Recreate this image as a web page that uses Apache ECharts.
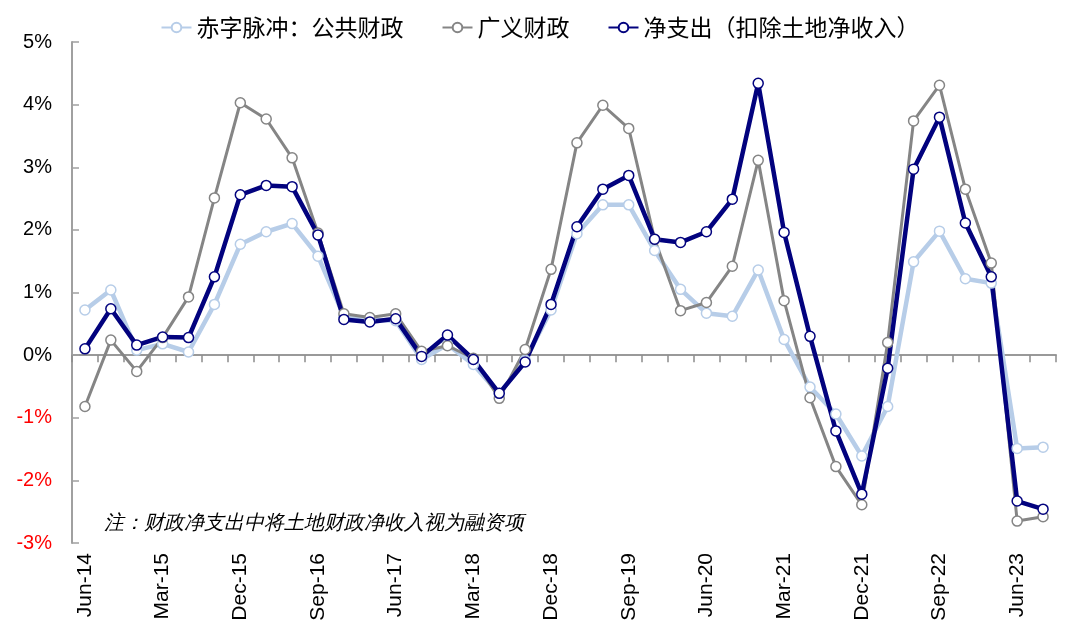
<!DOCTYPE html>
<html><head><meta charset="utf-8">
<script src="https://cdn.jsdelivr.net/npm/echarts@6/dist/echarts.min.js"></script>
<style>html,body{margin:0;padding:0;background:#fff}#c{width:1080px;height:636px}</style>
</head><body><div id="c"></div>
<script>
const categories = ['Jun-14','Sep-14','Dec-14','Mar-15','Jun-15','Sep-15','Dec-15','Mar-16','Jun-16','Sep-16',
 'Dec-16','Mar-17','Jun-17','Sep-17','Dec-17','Mar-18','Jun-18','Sep-18','Dec-18','Mar-19',
 'Jun-19','Sep-19','Dec-19','Mar-20','Jun-20','Sep-20','Dec-20','Mar-21','Jun-21','Sep-21',
 'Dec-21','Mar-22','Jun-22','Sep-22','Dec-22','Mar-23','Jun-23','Sep-23'];
const publicFiscal = [0.72,1.04,0.08,0.18,0.05,0.81,1.77,1.97,2.10,1.58,
 0.62,0.57,0.55,-0.07,0.17,-0.15,-0.62,-0.08,0.72,1.94,
 2.40,2.40,1.67,1.05,0.67,0.62,1.36,0.25,-0.51,-0.94,
 -1.61,-0.82,1.49,1.98,1.22,1.15,-1.49,-1.47];
const broadFiscal = [-0.82,0.24,-0.26,0.28,0.93,2.51,4.03,3.77,3.15,1.95,
 0.66,0.60,0.66,0.06,0.15,-0.05,-0.69,0.09,1.37,3.39,
 3.99,3.62,1.85,0.71,0.84,1.42,3.11,0.87,-0.68,-1.78,
 -2.39,0.20,3.74,4.31,2.65,1.47,-2.65,-2.58];
const netSpending = [0.10,0.74,0.16,0.29,0.28,1.25,2.56,2.71,2.69,1.92,
 0.57,0.53,0.58,-0.02,0.32,-0.07,-0.61,-0.11,0.81,2.05,
 2.65,2.87,1.85,1.80,1.97,2.49,4.34,1.96,0.30,-1.21,
 -2.22,-0.21,2.97,3.80,2.11,1.25,-2.33,-2.46];
const seriesNames = ['赤字脉冲：公共财政','广义财政','净支出（扣除土地净收入）'];
const note = '注：财政净支出中将土地财政净收入视为融资项';

const FONT = '"Liberation Sans", Arial, "Noto Sans CJK SC", sans-serif';
const CJK = '"Noto Sans CJK SC", "Liberation Sans", sans-serif';
const chart = echarts.init(document.getElementById('c'), null, {renderer:'canvas'});
function mk(name, data, color, width){
  return {name, type:'line', data, xAxisIndex:0, yAxisIndex:0,
    symbol:'circle', symbolSize:10, showSymbol:true,
    lineStyle:{color, width},
    itemStyle:{color:'#ffffff', borderColor:color, borderWidth:1.5},
    emphasis:{disabled:true}, animation:false};
}
chart.setOption({
  animation:false,
  legend:{top:11, left:'center', itemGap:38, itemWidth:30, itemHeight:12,
    textStyle:{fontSize:23, color:'#000', fontFamily:CJK},
    data:seriesNames},
  grid:{left:72, right:24, top:42, bottom:93},
  xAxis:[{type:'category', data:categories, position:'bottom', boundaryGap:true,
      axisLine:{show:false}, axisTick:{show:false}, splitLine:{show:false},
      axisLabel:{interval:2, rotate:90, margin:10, fontSize:21, color:'#000', fontFamily:FONT}},
    {type:'category', data:categories, position:'bottom', boundaryGap:true,
      axisLine:{show:true, onZero:true, onZeroAxisIndex:0, lineStyle:{color:'#999999', width:2}},
      axisTick:{show:true, interval:0, length:7, lineStyle:{color:'#8c8c8c', width:1.5}},
      axisLabel:{show:false}, splitLine:{show:false}}],
  yAxis:{type:'value', min:-3, max:5, interval:1,
    axisLine:{show:true, lineStyle:{color:'#a0a0a0', width:2}},
    axisTick:{show:true, inside:true, length:7, lineStyle:{color:'#a0a0a0', width:1.5}},
    splitLine:{show:false},
    axisLabel:{margin:20, fontSize:20, fontFamily:FONT, color:'#000',
      formatter:v=>(v<0?'{neg|'+v+'%}':'{pos|'+v+'%}'),
      rich:{neg:{color:'#ff0000', fontSize:20, fontFamily:FONT},
            pos:{color:'#000000', fontSize:20, fontFamily:FONT}}}},
  series:[mk(seriesNames[0], publicFiscal, '#b7cde8', 4.5),
          mk(seriesNames[1], broadFiscal, '#858585', 3),
          mk(seriesNames[2], netSpending, '#02027e', 4.5)],
  graphic:[{type:'text', left:104, top:513,
    style:{text:note, fontSize:20, fontStyle:'italic', fill:'#000', font:'italic 20.4px '+CJK}}]
});
</script></body></html>
